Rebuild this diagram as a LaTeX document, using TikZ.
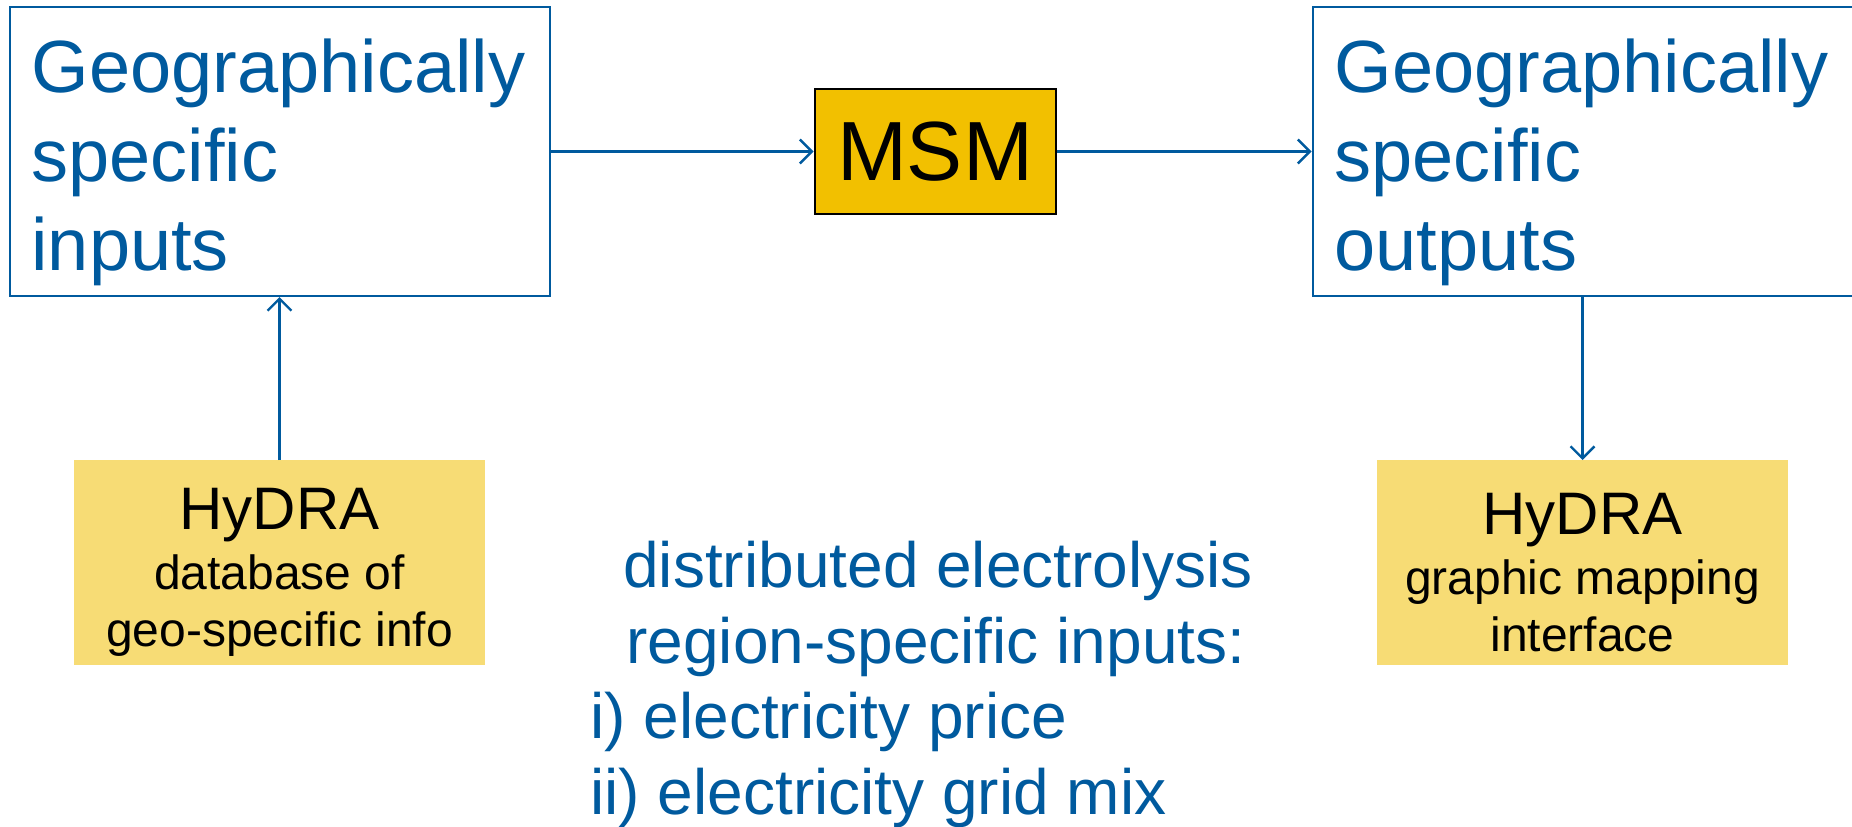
\documentclass[tikz,border=0pt]{standalone}
\usepackage{fontspec}
\setmainfont{Liberation Sans}
\usetikzlibrary{arrows.meta,positioning}
\definecolor{geoblue}{RGB}{0,90,158}
\definecolor{msmgold}{RGB}{242,192,0}
\definecolor{hydrasand}{RGB}{247,220,117}
\newcommand{\toppad}[1]{\rule{0pt}{#1}}

\begin{document}
\begin{tikzpicture}[
    >={Straight Barb[length=6pt,width=12pt,line width=1.2pt]},
    node distance=81.5pt and 131.5pt,
    geobox/.style={draw=geoblue, line width=1pt, text width=248pt, minimum height=144.5pt, inner xsep=11pt, align=left, text=geoblue, font=\fontsize{37}{44.5}\selectfont},
    model/.style={draw=black, line width=1pt, fill=msmgold, minimum width=120.5pt, minimum height=62.5pt, font=\fontsize{42}{48}\selectfont},
    hydra/.style={fill=hydrasand, minimum width=205.5pt, minimum height=102.5pt, align=center, font=\fontsize{24}{28.5}\selectfont},
    line/.style={->, geoblue, line width=1.2pt}
]
\useasboundingbox (0,0) rectangle (926pt,-413pt);

% Model chain
\node[geobox] (inputs) at (139.75pt,-75.75pt) {\toppad{38pt}Geographically\\specific\\inputs};
\node[model, right=of inputs] (msm) {MSM};
\node[geobox, right=127.5pt of msm] (outputs) {\toppad{38pt}Geographically\\specific\\outputs};
\draw[line] (inputs.east) -- (msm.west);
\draw[line] (msm.east) -- (outputs.west);

% HyDRA links
\node[hydra, below=of inputs] (hydradb) {{\fontsize{30}{34}\selectfont\toppad{30.3pt}HyDRA}\\[1.5pt]database of\\geo-specific info};
\node[hydra, below=of outputs] (hydramap) {{\fontsize{30}{34}\selectfont\toppad{30.3pt}HyDRA}\\[1.5pt]graphic mapping\\interface};
\draw[line] (hydradb.north) -- (inputs.south);
\draw[line] (outputs.south) -- (hydramap.north);

% Region-specific inputs
\node[anchor=north west, inner sep=0pt, align=left, text=geoblue, font=\fontsize{32}{37.8}\selectfont] (elec) at (295pt,-270.5pt)
  {\hspace*{16.5pt}distributed electrolysis\\\hspace*{18pt}region-specific inputs:\\i) electricity price\\ii) electricity grid mix};

\end{tikzpicture}
\end{document}
